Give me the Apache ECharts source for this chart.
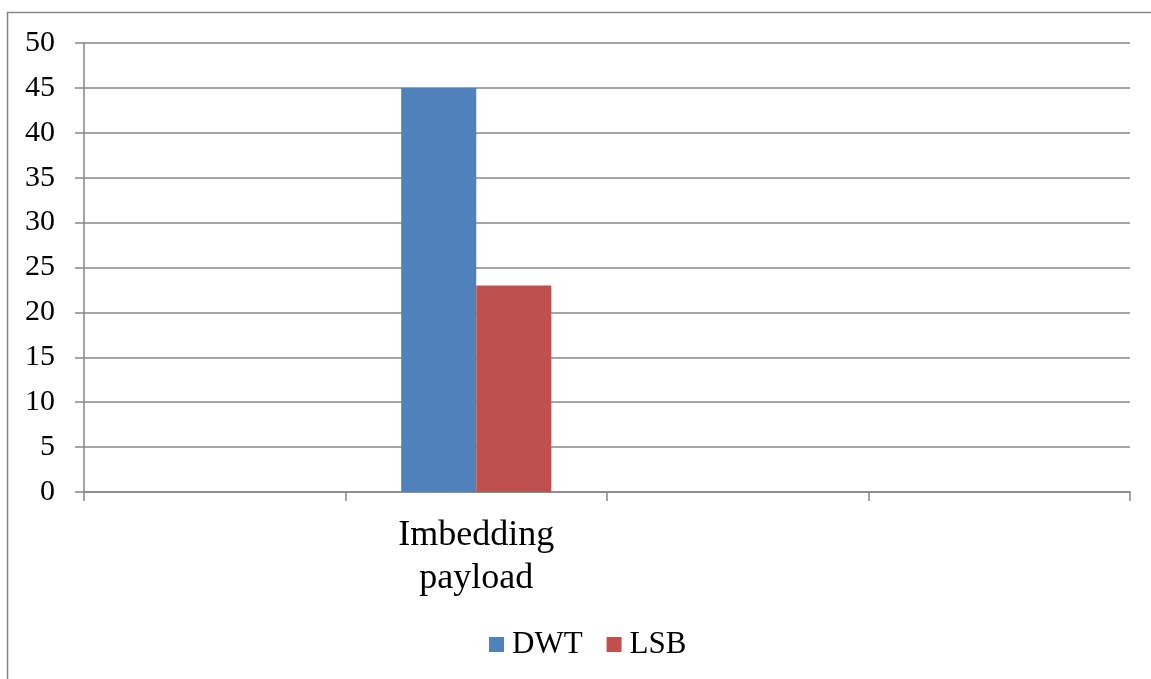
<!DOCTYPE html>
<html>
<head>
<meta charset="utf-8">
<script src="https://cdn.jsdelivr.net/npm/echarts@6/dist/echarts.min.js"></script>
<style>
  html, body { margin: 0; padding: 0; background: #ffffff; overflow: hidden; }
  #chart { width: 1151px; height: 679px; }
</style>
</head>
<body>
<div id="chart"></div>
<script>
// Category slots along the x axis (only the second one is labelled)
const categories = ['', 'Imbedding payload', '', ''];
// Series values per category
const dwtValues = [null, 45, null, null];
const lsbValues = [null, 23, null, null];
// Value axis ticks
const yTicks = [0, 5, 10, 15, 20, 25, 30, 35, 40, 45, 50];

const seriesNames = ['DWT', 'LSB'];
const seriesColors = ['#4F81BD', '#C0504D'];
const axisGray = '#878787';
const fontFamily = '"Liberation Serif", "Times New Roman", serif';

const chart = echarts.init(document.getElementById('chart'), null, { renderer: 'canvas' });

chart.setOption({
  backgroundColor: '#ffffff',
  animation: false,
  textStyle: { fontFamily: fontFamily, color: '#000000' },
  // outer chart-area frame: left and top edges only
  graphic: [{
    type: 'polyline',
    shape: { points: [[7.5, 700], [7.5, 12.5], [1160, 12.5]] },
    style: { fill: 'none', stroke: axisGray, lineWidth: 1.5 },
    silent: true,
    z: -1
  }],
  grid: { left: 84, right: 21, top: 43, bottom: 187, containLabel: false },
  legend: {
    data: seriesNames,
    left: 484,
    top: 624,
    itemWidth: 15,
    itemHeight: 15,
    itemGap: 24,
    icon: 'rect',
    textStyle: { fontFamily: fontFamily, fontSize: 31, color: '#000000', padding: [0, 0, 0, 3] }
  },
  xAxis: {
    type: 'category',
    data: categories,
    boundaryGap: true,
    axisLine: { show: true, lineStyle: { color: axisGray, width: 1.5 } },
    axisTick: { show: true, interval: 0, length: 9, lineStyle: { color: axisGray, width: 1.5 } },
    axisLabel: {
      interval: 0,
      margin: 22,
      fontFamily: fontFamily,
      fontSize: 36,
      lineHeight: 43,
      color: '#000000',
      formatter: function (v) { return v.replace(' ', '\n'); }
    },
    splitLine: { show: false }
  },
  yAxis: {
    type: 'value',
    min: yTicks[0],
    max: yTicks[yTicks.length - 1],
    interval: yTicks[1] - yTicks[0],
    axisLine: { show: true, lineStyle: { color: axisGray, width: 1.5 } },
    axisTick: { show: true, length: 9, lineStyle: { color: axisGray, width: 1.5 } },
    axisLabel: { margin: 29, fontFamily: fontFamily, fontSize: 30, color: '#000000' },
    splitLine: { show: true, lineStyle: { color: axisGray, width: 1.5 } }
  },
  series: [
    {
      name: seriesNames[0],
      type: 'bar',
      data: dwtValues,
      itemStyle: { color: seriesColors[0] },
      barGap: '0%',
      barCategoryGap: '42.6%'
    },
    {
      name: seriesNames[1],
      type: 'bar',
      data: lsbValues,
      itemStyle: { color: seriesColors[1] },
      barGap: '0%',
      barCategoryGap: '42.6%'
    }
  ]
});
</script>
</body>
</html>
